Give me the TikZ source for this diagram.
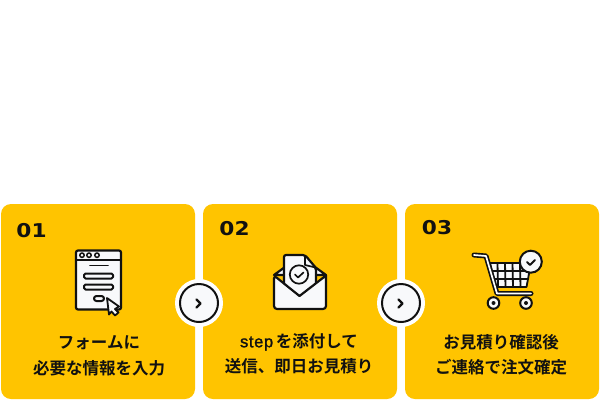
\documentclass[tikz,border=0pt]{standalone}
\usepackage{fontspec}
\setmainfont{Noto Sans CJK JP Bold}[BoldFont={Noto Sans CJK JP Bold}]
\newfontfamily\numfont{DejaVu Sans Bold}
\newfontfamily\latinfont{Liberation Sans}
\definecolor{cardy}{HTML}{FFC400}
\definecolor{ink}{HTML}{111111}
\definecolor{paper}{HTML}{F8F9FB}
\tikzset{
  card/.style={fill=cardy,draw=none,rounded corners=10pt},
  stepnum/.style={font=\numfont\fontsize{19}{19}\selectfont,text=ink,inner sep=0pt,xscale=1.14},
  caption/.style={font=\fontsize{16.5}{16.5}\selectfont,text=ink,inner sep=0pt},
  ln/.style={draw=ink,line width=2.2pt,line cap=round,line join=round},
  thin/.style={draw=ink,line width=1.7pt,line cap=round,line join=round},
  pf/.style={ln,fill=paper},
  halo/.style={circle,fill=white,minimum size=48pt,inner sep=0pt},
  disc/.style={circle,fill=paper,draw=ink,line width=2pt,minimum size=38pt,inner sep=0pt},
  chev/.style={draw=ink,line width=2.4pt,line cap=round,line join=round}
}
\begin{document}
\begin{tikzpicture}[x=1pt,y=-1pt]
\useasboundingbox (0,0) rectangle (600,400);
\fill[white] (0,0) rectangle (600,400);
% cards
\path[card] (1,204) rectangle (195,399);
\path[card] (203,204) rectangle (397,399);
\path[card] (405,204) rectangle (599,399);
% numbers
\node[stepnum] (n1) at (31.5,231) {01};
\node[stepnum] (n2) at (234.5,229) {02};
\node[stepnum] (n3) at (437,228) {03};
% captions
\node[caption] (c1a) at (99,343) {フォームに};
\node[caption] (c1b) at (99,368) {必要な情報を入力};
\node[caption] (c2a) at (299,342) {{\latinfont\addfontfeatures{FakeBold=1.5,LetterSpace=4}step}\,を添付して};
\node[caption] (c2b) at (299,366) {送信、即日お見積り};
\node[caption] (c3a) at (501,342) {お見積り確認後};
\node[caption] (c3b) at (501,367) {ご連絡で注文確定};
% arrow discs
\node[halo] (h1) at (199,303) {};
\node[halo] (h2) at (401,303) {};
\node[disc] (d1) at (199,303) {};
\node[disc] (d2) at (401,303) {};
\draw[chev] (196.5,299.5) -- (200.5,303.5) -- (196.5,307.5);
\draw[chev] (398.5,299.5) -- (402.5,303.5) -- (398.5,307.5);
% form icon
\draw[pf,rounded corners=2pt] (76,250.5) rectangle (121,309.5);
\draw[ln] (76,260) -- (121,260);
\foreach \x in {82,89,97} \draw[draw=ink,line width=1.5pt] (\x,255.2) circle (2.2);
\draw[thin] (90,265.5) -- (108,265.5);
\draw[pf,line width=2pt,rounded corners=1.5pt] (84,273.5) rectangle (113,278.5);
\draw[pf,line width=2pt,rounded corners=1.5pt] (84,284.5) rectangle (113,289.5);
\draw[pf,line width=2pt,rounded corners=2.5pt] (94,296) rectangle (104,301);
\draw[pf,line width=1.8pt] (107,298) -- (119,306.5) -- (115,309) -- (118.5,312.5) -- (115,315.5) -- (111.5,311.5) -- (109,314.5) -- cycle;
% envelope icon
\draw[pf] (274,275) -- (285,267) -- (315,267) -- (326,275) -- cycle;
\draw[pf,rounded corners=2pt] (284,297) -- (284,255) -- (305,255) -- (316,268) -- (316,297);
\draw[thin] (305,255.5) -- (305,265) -- (315.5,267.5);
\draw[thin,fill=paper] (299,274.5) circle (9.2);
\draw[thin] (295,274.5) -- (298,277.5) -- (303.5,272.5);
\draw[pf,rounded corners=3pt] (274,275.5) [sharp corners] -- (299.5,296) -- (326,275.5) [rounded corners=3pt] -- (326,309) -- (274,309) -- cycle;
% cart icon
\fill[paper,draw=ink,line width=1.8pt,line join=round] (490,263) -- (531,263) -- (526.5,287) -- (496,287) -- cycle;
\foreach \x in {497.5,505,512.5,520}
  \draw[ink,line width=1.8pt] (\x,263) -- (\x+0.5,287);
\draw[ink,line width=1.8pt] (491,271) -- (529.5,271);
\draw[ink,line width=1.8pt] (493,279) -- (528,279);
\draw[draw=ink,line width=5pt,line cap=round,line join=round] (474,255) -- (486,256) -- (497,293.5) -- (531,293.5);
\draw[draw=white,line width=1.7pt,line cap=round,line join=round] (474,255) -- (486,256) -- (497,293.5) -- (531,293.5);
\draw[draw=ink,line width=2pt,fill=paper] (493.5,303) circle (5.8);
\draw[draw=ink,line width=2pt,fill=paper] (526,303) circle (5.8);
\fill[ink] (493.5,303) circle (2);
\fill[ink] (526,303) circle (2);
\draw[draw=ink,line width=2pt,fill=paper] (530.8,261.7) circle (11);
\draw[draw=ink,line width=2pt,line cap=round,line join=round] (527,262) -- (530,265) -- (535,260);
\end{tikzpicture}
\end{document}
